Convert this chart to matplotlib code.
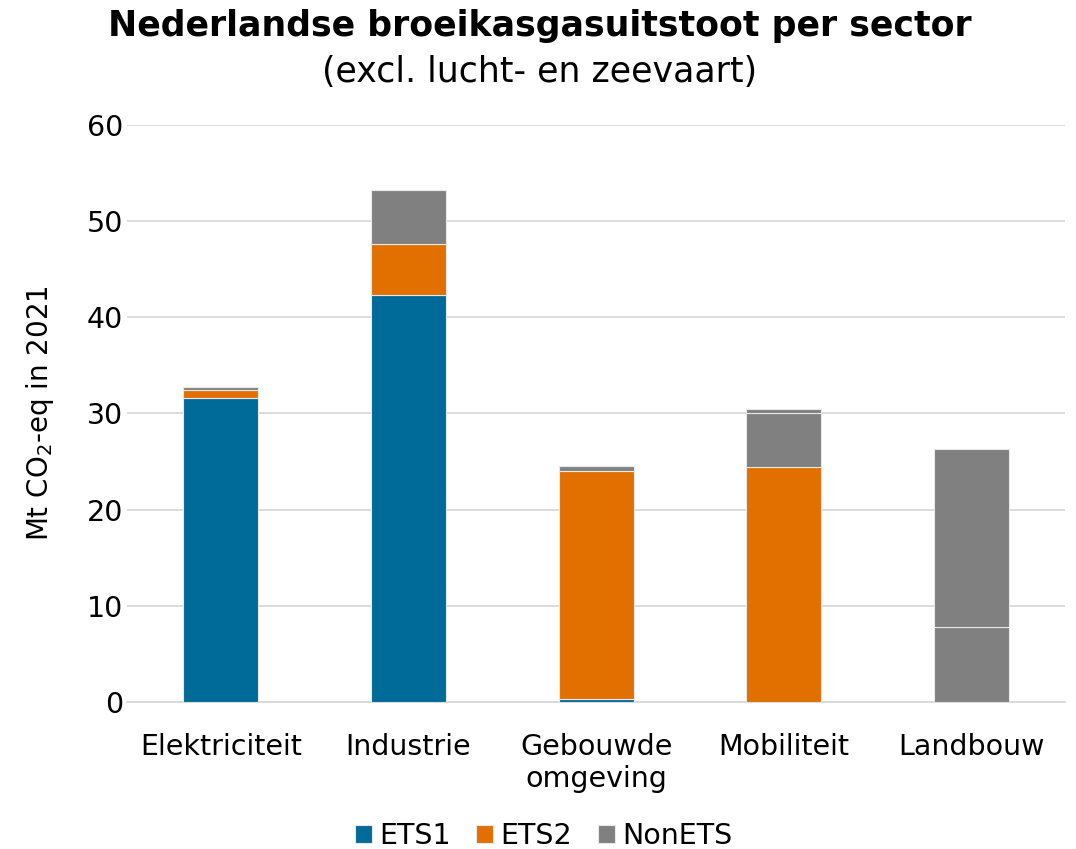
import numpy as np
import matplotlib.pyplot as plt

# data (Mt CO2-eq, 2021)
sectors = ['Elektriciteit', 'Industrie', 'Gebouwde\nomgeving', 'Mobiliteit', 'Landbouw']
ets1 = [31.6, 42.3, 0.3, 0.0, 0.0]
ets2 = [0.8, 5.3, 23.7, 24.4, 0.0]
nonets_1 = [0.3, 5.6, 0.5, 5.6, 7.8]
nonets_2 = [0.0, 0.0, 0.0, 0.5, 18.5]
yticks = [0, 10, 20, 30, 40, 50, 60]

c_ets1 = '#006A99'
c_ets2 = '#E17000'
c_non = '#808080'

plt.rcParams['font.family'] = 'DejaVu Sans'

fig = plt.figure(figsize=(10.76, 8.49), dpi=100)
ax = fig.add_axes([0.118, 0.173, 0.872, 0.68])

x = np.arange(len(sectors))
w = 0.4
edge = dict(edgecolor='#E8E8E8', linewidth=0.8, zorder=3)

b1 = ax.bar(x, ets1, w, color=c_ets1, label='ETS1', **edge)
bottom = np.array(ets1)
b2 = ax.bar(x, ets2, w, bottom=bottom, color=c_ets2, label='ETS2', **edge)
bottom = bottom + np.array(ets2)
b3 = ax.bar(x, nonets_1, w, bottom=bottom, color=c_non, label='NonETS', **edge)
bottom = bottom + np.array(nonets_1)
ax.bar(x, nonets_2, w, bottom=bottom, color=c_non, **edge)

ax.set_xlim(-0.5, len(sectors) - 0.5)
ax.set_ylim(0, 60)
ax.set_yticks(yticks)
ax.set_xticks(x)
ax.set_xticklabels(sectors, fontsize=20.5, linespacing=1.2)
ax.tick_params(axis='y', labelsize=20.5, length=0, pad=3)
ax.tick_params(axis='x', length=0, pad=22)
ax.grid(axis='y', color='#D9D9D9', linewidth=1.3, zorder=0)
ax.set_axisbelow(True)
for s in ['top', 'right', 'left']:
    ax.spines[s].set_visible(False)
ax.spines['bottom'].set_color('#D9D9D9')
ax.spines['bottom'].set_linewidth(1.3)

ax.set_ylabel('Mt CO$_2$-eq in 2021', fontsize=20, labelpad=22)

fig.text(0.502, 0.969, 'Nederlandse broeikasgasuitstoot per sector', ha='center', va='center',
         fontsize=25, fontweight='bold')
fig.text(0.501, 0.915, '(excl. lucht- en zeevaart)', ha='center', va='center', fontsize=25)

fig.legend(handles=[b1, b2, b3], loc='center', bbox_to_anchor=(0.505, 0.015), ncol=3,
           frameon=False, fontsize=20.5, handlelength=0.6, handleheight=0.6,
           handletextpad=0.25, columnspacing=0.9)

plt.savefig('out.png', dpi=100)
plt.close()
